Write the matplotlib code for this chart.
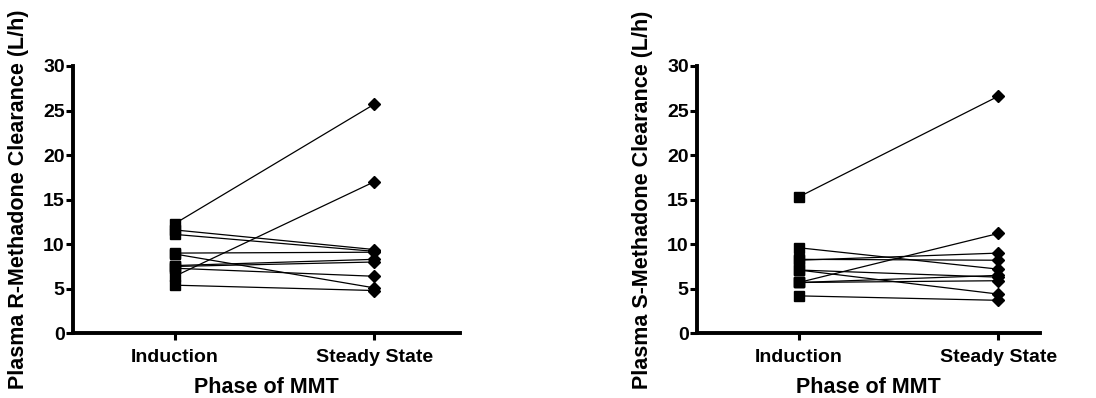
import matplotlib.pyplot as plt

# Datos (L/h)
phases = ["Induction", "Steady State"]

r_induction = [12.3, 6.4, 11.6, 11.1, 9.0, 8.9, 7.6, 7.5, 7.3, 5.4]
r_steady = [25.7, 17.0, 9.4, 9.2, 9.1, 5.1, 8.3, 8.0, 6.4, 4.8]

s_induction = [15.3, 9.6, 8.2, 8.3, 7.1, 7.1, 5.7, 5.7, 5.7, 4.2]
s_steady = [26.6, 7.2, 9.0, 8.2, 4.4, 6.3, 11.2, 6.5, 5.9, 3.7]

y_ticks = [0, 5, 10, 15, 20, 25, 30]

plt.rcParams['font.family'] = ['Liberation Sans', 'DejaVu Sans']
plt.rcParams['font.weight'] = 'bold'

fig = plt.figure(figsize=(10.96, 3.98), dpi=100)


def draw_panel(ax, before, after, ylabel, xmax):
    for b, a in zip(before, after):
        ax.plot([0, 1], [b, a], color='black', linewidth=0.9, zorder=2)
    ax.plot([0] * len(before), before, linestyle='none', marker='s',
            markersize=6.8, color='black', zorder=3)
    ax.plot([1] * len(after), after, linestyle='none', marker='D',
            markersize=6.2, color='black', zorder=3)

    ax.set_xlim(-0.51, xmax)
    ax.set_ylim(0, 30)
    ax.set_yticks(y_ticks)
    ax.set_xticks([0, 1])
    ax.set_xticklabels(phases, fontsize=14, fontweight='bold')
    ax.tick_params(axis='y', labelsize=14, width=2.2, length=5, pad=1)
    ax.tick_params(axis='x', width=2.2, length=5, pad=6)
    for lbl in ax.get_yticklabels():
        lbl.set_fontweight('bold')

    for side in ['top', 'right']:
        ax.spines[side].set_visible(False)
    for side in ['left', 'bottom']:
        ax.spines[side].set_linewidth(2.8)
        ax.spines[side].set_capstyle('projecting')

    ax.set_xlabel("Phase of MMT", fontsize=15.5, fontweight='bold', labelpad=8)
    ax.set_ylabel(ylabel, fontsize=15.5, fontweight='bold', labelpad=10)


ax1 = fig.add_axes([0.0666, 0.1626, 0.353, 0.6716])
draw_panel(ax1, r_induction, r_steady, "Plasma R-Methadone Clearance (L/h)", 1.43)

ax2 = fig.add_axes([0.636, 0.1626, 0.313, 0.6716])
draw_panel(ax2, s_induction, s_steady, "Plasma S-Methadone Clearance (L/h)", 1.21)

fig.savefig("out.png", dpi=100)
